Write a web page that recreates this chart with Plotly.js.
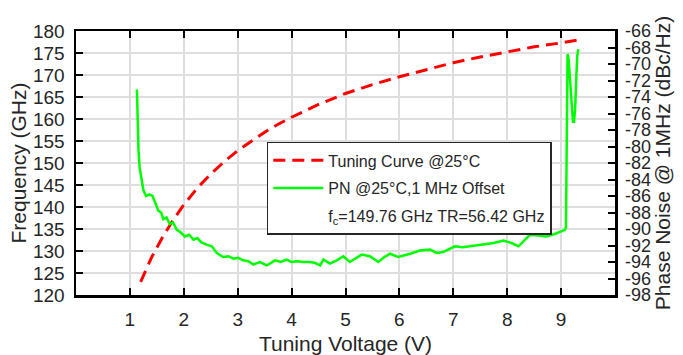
<!DOCTYPE html>
<html>
<head>
<meta charset="utf-8">
<script src="https://cdn.plot.ly/plotly-3.0.1.min.js"></script>
<style>html,body{margin:0;padding:0;background:#fff;}#chart{width:683px;height:355px;}</style>
</head>
<body>
<div id="chart"></div>
<script>
// Tuning curve (left axis, GHz)
const voltageTC = [1.2, 1.4, 1.6, 1.8, 2.0, 2.25, 2.5, 2.75, 3.0, 3.25, 3.5, 3.75, 4.0, 4.5, 5.0, 5.5, 6.0, 6.5, 7.0, 7.5, 8.0, 8.5, 9.0, 9.3];
const freqTC = [123, 128.5, 133, 137, 140.5, 144.3, 147.5, 150.3, 152.8, 155, 157, 158.8, 160.4, 163.3, 165.8, 167.8, 169.6, 171.2, 172.8, 174.1, 175.3, 176.4, 177.3, 177.9];

// Phase noise (right axis, dBc/Hz)
const voltagePN = [1.13, 1.14, 1.16, 1.18, 1.21, 1.25, 1.30, 1.36, 1.42, 1.47, 1.53, 1.58, 1.62, 1.68, 1.74, 1.80, 1.87, 1.94, 2.02, 2.10, 2.18, 2.25, 2.32, 2.42, 2.52, 2.61, 2.73, 2.83, 2.92, 3.01, 3.10, 3.20, 3.29, 3.41, 3.54, 3.62, 3.69, 3.80, 3.91, 4.00, 4.09, 4.22, 4.33, 4.43, 4.53, 4.59, 4.71, 4.84, 4.96, 5.08, 5.20, 5.30, 5.45, 5.61, 5.72, 5.83, 5.98, 6.10, 6.20, 6.38, 6.57, 6.69, 6.81, 7.03, 7.17, 7.31, 7.45, 7.56, 7.75, 7.93, 8.08, 8.21, 8.32, 8.42, 8.58, 8.73, 8.88, 9.01, 9.07, 9.09, 9.10, 9.12, 9.14, 9.16, 9.19, 9.22, 9.24, 9.26, 9.28, 9.30, 9.32];
const phaseNoise = [-73.1, -77.5, -80.5, -82.5, -84.0, -85.3, -86.0, -85.8, -86.0, -86.8, -87.8, -88.0, -88.8, -88.6, -89.4, -89.2, -90.1, -90.4, -90.9, -90.7, -91.3, -91.1, -91.6, -91.9, -92.1, -92.9, -93.4, -93.3, -93.6, -93.5, -93.8, -93.9, -94.3, -94.0, -94.4, -94.1, -93.8, -94.0, -93.7, -94.0, -93.9, -94.0, -94.0, -94.1, -94.4, -93.7, -94.2, -93.8, -93.3, -94.0, -93.5, -93.1, -93.3, -94.0, -93.4, -93.0, -93.4, -93.2, -93.0, -92.6, -92.5, -92.9, -92.8, -92.1, -92.2, -92.1, -92.0, -91.9, -91.7, -91.4, -91.7, -92.1, -91.3, -90.7, -90.8, -90.9, -90.6, -90.3, -90.1, -89.8, -80, -68.8, -69.5, -71.5, -75, -77, -77.0, -75.5, -72, -69, -68.2];

const xTicks = [1, 2, 3, 4, 5, 6, 7, 8, 9];
const freqTicks = [120, 125, 130, 135, 140, 145, 150, 155, 160, 165, 170, 175, 180];
const pnTicks = [-98, -96, -94, -92, -90, -88, -86, -84, -82, -80, -78, -76, -74, -72, -70, -68, -66];
const pnTickText = pnTicks.map(v => String(v));

const legendNames = ['Tuning Curve @25°C', 'PN @25°C,1 MHz Offset', 'f<sub>c</sub>=149.76 GHz TR=56.42 GHz'];

const FONT = 'Liberation Sans, Arial, Helvetica, sans-serif';
const TXT = '#262626';

const traces = [
  {x: voltageTC, y: freqTC, yaxis: 'y', mode: 'lines', name: legendNames[0], legendgroup: 'a',
   line: {color: '#ff0000', width: 3, dash: '12px,7px'}},
  {x: voltagePN, y: phaseNoise, yaxis: 'y2', mode: 'lines', name: legendNames[1], legendgroup: 'b',
   line: {color: '#00ff00', width: 2.5}},
  {x: [null], y: [null], yaxis: 'y', mode: 'lines', name: legendNames[2], legendgroup: 'c',
   line: {color: 'rgba(0,0,0,0)', width: 0}, hoverinfo: 'skip'}
];

const layout = {
  width: 683, height: 355,
  margin: {l: 76, r: 68, t: 31, b: 60, pad: 0},
  paper_bgcolor: '#fff', plot_bgcolor: '#fff',
  font: {family: FONT, color: TXT, size: 19},
  showlegend: true,
  legend: {x: 0.354, y: 0.58, xanchor: 'left', yanchor: 'top', bgcolor: '#fff',
           bordercolor: '#262626', borderwidth: 1.5, font: {size: 16, color: TXT, family: FONT},
           traceorder: 'grouped', tracegroupgap: 4, itemwidth: 50},
  xaxis: {range: [0, 10], tickvals: xTicks, ticktext: xTicks.map(String), ticks: 'inside', ticklen: 7,
          tickwidth: 2, tickcolor: '#000', showline: true, linecolor: '#000', linewidth: 2.5, mirror: 'ticks',
          showgrid: true, gridcolor: '#dedede', gridwidth: 2, zeroline: false, ticklabelstandoff: 6,
          tickfont: {size: 19, color: TXT},
          title: {text: 'Tuning Voltage (V)', font: {size: 21, color: TXT}, standoff: 8}},
  yaxis: {range: [120, 180], tickvals: freqTicks, ticks: 'inside', ticklen: 7, tickwidth: 2, tickcolor: '#000',
          showline: true, linecolor: '#000', linewidth: 2.5, showgrid: true, gridcolor: '#dedede', gridwidth: 2,
          zeroline: false, ticklabelstandoff: 5, tickfont: {size: 19, color: TXT},
          title: {text: 'Frequency (GHz)', font: {size: 21, color: TXT}, standoff: 1}},
  yaxis2: {range: [-98, -66], overlaying: 'y', side: 'right', tickvals: pnTicks, ticktext: pnTickText,
           ticks: 'inside', ticklen: 7, tickwidth: 2, tickcolor: '#000', showline: true, linecolor: '#000',
           linewidth: 2.5, showgrid: false, zeroline: false, ticklabelstandoff: 4, tickfont: {size: 18, color: TXT},
           title: {text: 'Phase Noise @ 1MHz (dBc/Hz)', font: {size: 21, color: TXT}, standoff: 4}}
};

Plotly.newPlot('chart', traces, layout, {staticPlot: true, displayModeBar: false});
</script>
</body>
</html>
